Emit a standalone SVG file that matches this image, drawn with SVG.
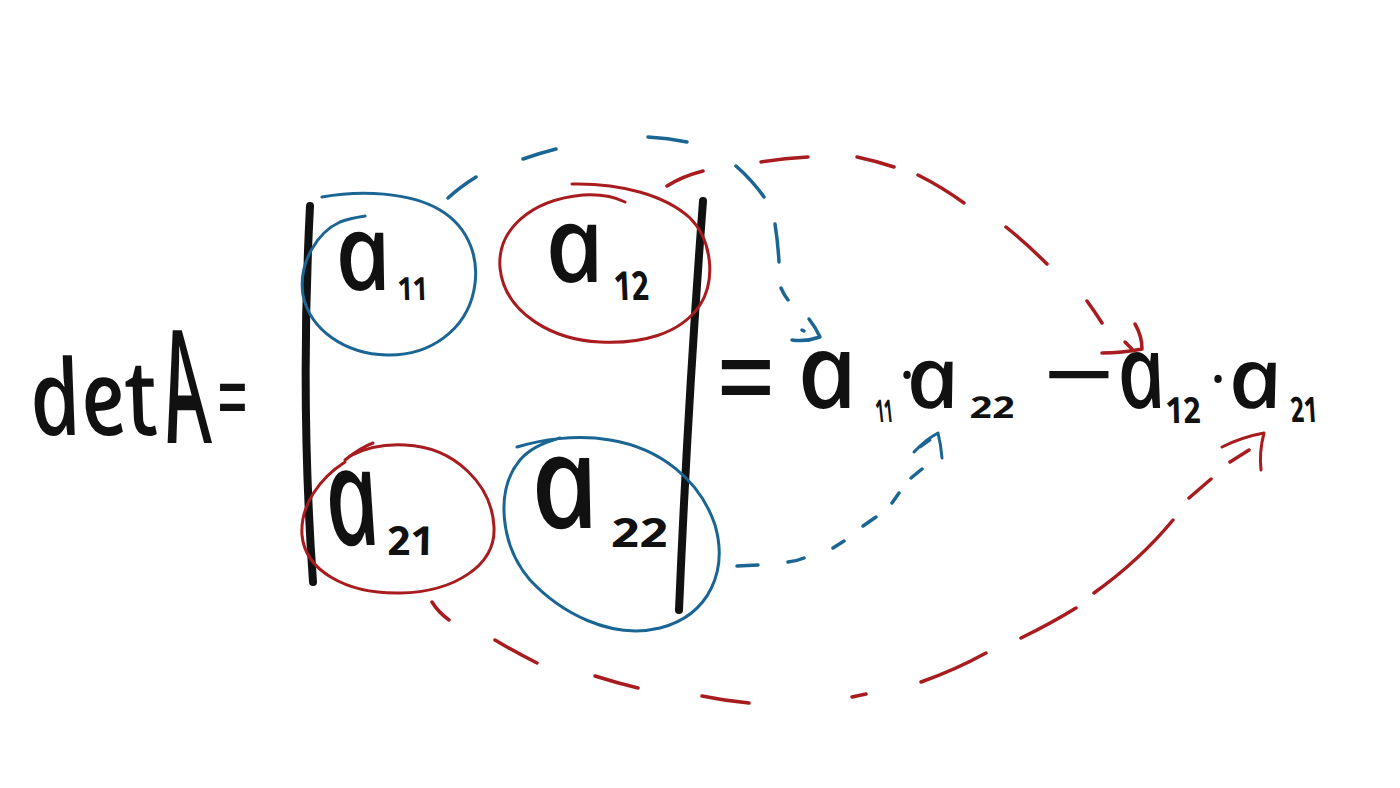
<svg xmlns="http://www.w3.org/2000/svg" width="1400" height="788" viewBox="0 0 1400 788">
<style>
.ink{fill:#111;font-family:"Noto Sans","DejaVu Sans",sans-serif;font-style:italic;font-weight:500}
.sub{font-weight:700}
.sym{fill:#111;font-family:"Noto Sans","DejaVu Sans",sans-serif;font-weight:400}
.bar{fill:none;stroke:#111;stroke-width:8;stroke-linecap:round;stroke-linejoin:round}
.blue{fill:none;stroke:#1b6594;stroke-width:3;stroke-linecap:round;stroke-linejoin:round}
.red{fill:none;stroke:#a81c1f;stroke-width:3;stroke-linecap:round;stroke-linejoin:round}
.dash{stroke-width:3.5}
</style>
<rect width="1400" height="788" fill="#fff"/>

<g id="det-label">
  <g transform="translate(36,435) skewX(12)">
    <text class="ink" x="0" y="0" font-size="105" textLength="127" lengthAdjust="spacingAndGlyphs">det</text>
  </g>
  <g transform="translate(172,443) skewX(12)">
    <text class="ink" x="0" y="0" font-size="158" textLength="44" lengthAdjust="spacingAndGlyphs">A</text>
  </g>
  <text class="sym" x="217" y="433" font-size="100" textLength="31" lengthAdjust="spacingAndGlyphs">=</text>
</g>

<g id="matrix-bars">
  <path class="bar" d="M310,206 Q300,400 313,582"/>
  <path class="bar" d="M703,201 Q688,400 679,610"/>
</g>

<g id="a11">
  <path class="blue" d="M322,197 C360,190 410,192 440,210 C470,228 480,260 474,290 C466,330 430,356 387,355 C345,354 310,330 303,295 C298,262 318,232 340,222 C350,218 358,217 365,216"/>
  <g transform="translate(341,290) skewX(12)">
    <text class="ink" x="0" y="0" font-size="106" textLength="56" lengthAdjust="spacingAndGlyphs">a</text>
    <text class="ink sub" x="57" y="10" font-size="32" textLength="30" lengthAdjust="spacingAndGlyphs">11</text>
  </g>
</g>

<g id="a12">
  <path class="red" d="M572,184 C620,183 665,195 690,218 C712,240 716,280 700,305 C680,335 640,344 600,342 C555,340 505,315 500,268 C497,230 530,200 583,195 C600,194 615,197 625,202"/>
  <g transform="translate(551,282) skewX(12)">
    <text class="ink" x="0" y="0" font-size="106" textLength="59" lengthAdjust="spacingAndGlyphs">a</text>
    <text class="ink sub" x="62" y="18" font-size="40" textLength="35" lengthAdjust="spacingAndGlyphs">12</text>
  </g>
</g>

<g id="a21">
  <path class="red" d="M350,456 C365,448 385,444 405,445 C455,447 492,485 494,527 C496,565 455,592 400,593 C345,594 305,570 302,535 C300,505 320,478 345,462"/>
  <path class="red" d="M345,460 C355,452 365,446 373,443"/>
  <g transform="translate(333,545) skewX(12)">
    <text class="ink" x="0" y="0" font-size="136" textLength="54" lengthAdjust="spacingAndGlyphs">a</text>
    <text class="ink sub" x="55" y="10" font-size="40" textLength="47" lengthAdjust="spacingAndGlyphs">21</text>
  </g>
</g>

<g id="a22">
  <path class="blue" d="M517,447 C540,440 575,434 610,440 C660,448 700,480 715,525 C728,570 710,615 660,628 C610,640 560,612 530,580 C500,545 495,490 520,460 C530,448 545,442 560,438"/>
  <g transform="translate(538,528) skewX(12)">
    <text class="ink" x="0" y="0" font-size="130" textLength="68" lengthAdjust="spacingAndGlyphs">a</text>
    <text class="ink sub" x="72" y="19" font-size="40" textLength="57" lengthAdjust="spacingAndGlyphs">22</text>
  </g>
</g>

<g id="result">
  <text class="sym" x="716" y="423" font-size="130" textLength="60" lengthAdjust="spacingAndGlyphs">=</text>
  <g transform="translate(803,408) skewX(12)">
    <text class="ink" x="0" y="0" font-size="104" textLength="60" lengthAdjust="spacingAndGlyphs">a</text>
    <text class="ink sub" x="72" y="14" font-size="31" textLength="17" lengthAdjust="spacingAndGlyphs">11</text>
  </g>
  <text class="sym" x="907" y="396" font-size="60" font-weight="800" text-anchor="middle">·</text>
  <g transform="translate(911,408) skewX(12)">
    <text class="ink" x="0" y="0" font-size="86" textLength="53" lengthAdjust="spacingAndGlyphs">a</text>
    <text class="ink sub" x="59" y="10" font-size="30" textLength="45" lengthAdjust="spacingAndGlyphs">22</text>
  </g>
  <text class="sym" x="1043" y="410" font-size="100" font-weight="600" textLength="72" lengthAdjust="spacingAndGlyphs">−</text>
  <g transform="translate(1123,408) skewX(12)">
    <text class="ink" x="0" y="0" font-size="102" textLength="48" lengthAdjust="spacingAndGlyphs">a</text>
    <text class="ink sub" x="42" y="15" font-size="36" textLength="35" lengthAdjust="spacingAndGlyphs">12</text>
  </g>
  <text class="sym" x="1218" y="400" font-size="60" font-weight="800" text-anchor="middle">·</text>
  <g transform="translate(1233,408) skewX(12)">
    <text class="ink" x="0" y="0" font-size="84" textLength="54" lengthAdjust="spacingAndGlyphs">a</text>
    <text class="ink sub" x="57" y="14" font-size="35" textLength="27" lengthAdjust="spacingAndGlyphs">21</text>
  </g>
</g>

<g id="connectors">
  <path class="blue dash" d="M448,198 Q460,187 476,177 M523,159 Q540,153 556,149 M648,137 Q668,138 687,142 M736,166 Q752,180 764,197 M775,224 Q778,243 779,262 M781,288 Q784,295 788,300"/>
  <path class="blue dash" d="M809,319 Q816,328 820,337 Q806,342 792,340 M802,330 L804,331"/>
  <path class="red dash" d="M667,186 Q683,176 703,171 M761,162 Q785,158 808,157 M857,157 Q876,161 894,167 M918,175 Q942,187 964,203 M1006,227 Q1027,244 1047,264 M1087,301 Q1095,312 1102,323"/>
  <path class="red dash" d="M1135,324 Q1142,336 1142,349 Q1122,353 1102,353 M1125,342 L1132,349"/>
  <path class="blue dash" d="M737,566 L758,565 M788,562 Q797,561 804,558 M833,548 L844,541 M863,526 L876,517 M892,503 L899,493 M911,478 L922,469"/>
  <path class="blue" stroke-width="4.5" d="M914,452 Q925,440 938,433 Q941,445 942,458 M920,447 L930,440"/>
  <path class="red dash" d="M432,602 Q438,612 449,620 M495,640 Q515,652 537,663 M595,676 Q617,683 638,688 M702,696 Q726,701 749,703 M852,697 L866,694 M921,682 Q955,670 986,653 M1021,638 Q1050,624 1076,608 M1094,593 Q1140,560 1173,520 M1189,498 L1211,479 M1230,462 L1249,450"/>
  <path class="red" stroke-width="4" d="M1222,447 Q1242,437 1264,433 Q1259,452 1261,470"/>
</g>
</svg>
